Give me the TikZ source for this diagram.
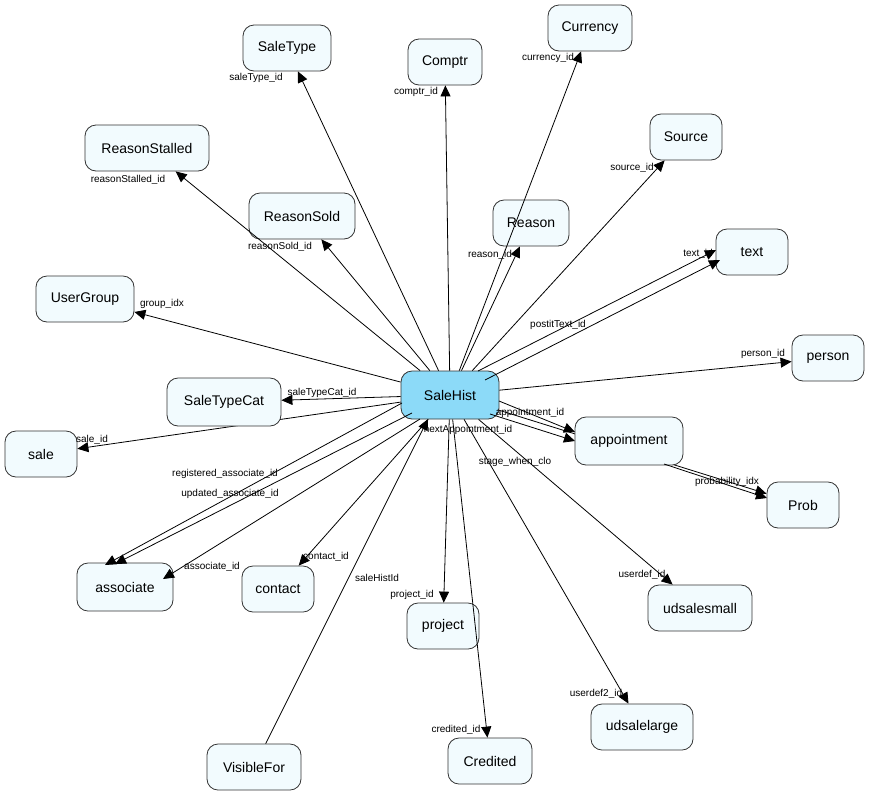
\documentclass[tikz,border=0pt]{standalone}
\usepackage{fontspec}
\setmainfont{Liberation Sans}
\usetikzlibrary{arrows.meta,calc}
\begin{document}
\begin{tikzpicture}[x=1pt,y=-1pt,
  nd/.style={draw=black!80,line width=0.8pt,rounded corners=11pt,fill=cyan!5,minimum height=46pt,font=\fontsize{14}{14}\selectfont,inner sep=0pt},
  e/.style={line width=0.8pt,-{Triangle[length=11pt,width=10pt]}},
  lb/.style={font=\fontsize{10}{10}\selectfont,inner sep=1pt}]
\useasboundingbox (0,0) rectangle (870,796);
\node[nd,fill=cyan!45,minimum width=98pt,minimum height=48pt] (SH) at (450,395) {SaleHist};
\node[nd,minimum width=88pt] (SaleType) at (287,48) {SaleType};
\node[nd,minimum width=74pt] (Comptr) at (445,62) {Comptr};
\node[nd,minimum width=84pt] (Currency) at (590,28) {Currency};
\node[nd,minimum width=124pt] (RS) at (147,148) {ReasonStalled};
\node[nd,minimum width=72pt] (Source) at (686,137) {Source};
\node[nd,minimum width=106pt] (RSold) at (302,216) {ReasonSold};
\node[nd,minimum width=76pt] (Reason) at (531,223) {Reason};
\node[nd,minimum width=72pt] (text) at (752,252) {text};
\node[nd,minimum width=98pt] (UG) at (85,299) {UserGroup};
\node[nd,minimum width=72pt] (person) at (828,358) {person};
\node[nd,minimum width=72pt] (sale) at (41,454) {sale};
\node[nd,minimum width=72pt] (Prob) at (803,505) {Prob};
\node[nd,minimum width=72pt] (contact) at (278,589) {contact};
\node[nd,minimum width=72pt] (project) at (443,626) {project};
\node[nd,minimum width=104pt] (uds) at (700,608) {udsalesmall};
\node[nd,minimum width=102pt] (udl) at (642,727) {udsalelarge};
\node[nd,minimum width=84pt] (Credited) at (490,761) {Credited};
\node[nd,minimum width=94pt] (VF) at (254,767) {VisibleFor};
% edges behind some nodes
\draw[e] (SH) -- (sale);
\draw[e] (SH) -- (Prob);
\node[nd,minimum width=114pt,minimum height=48pt] (STC) at (224,402) {SaleTypeCat};
\node[nd,minimum width=108pt,minimum height=48pt] (app) at (629,441) {appointment};
\node[nd,minimum width=96pt,minimum height=48pt] (assoc) at (125,587) {associate};
\node[lb] at (515,462) {stage\_when\_clo};
\node[lb] at (92,440) {sale\_id};
\draw[e] (SH) -- (SaleType);
\draw[e] (SH) -- (Comptr);
\draw[e] (SH) -- (Currency);
\draw[e] (SH) -- (RS);
\draw[e] (SH) -- (Source);
\draw[e] (SH) -- (RSold);
\draw[e] (SH) -- (Reason);
\draw[e] ($(SH)+(28,-24)$) -- ($(text)+(-36,-2)$);
\draw[e] ($(SH)+(35,-15)$) -- ($(text)+(-32,8)$);
\draw[e] (SH) -- (UG);
\draw[e] (SH) -- (person);
\draw[e] (SH) -- (STC);
\draw[e] ($(SH)+(49,6)$) -- ($(app)+(-54,-9)$);
\draw[e] ($(SH)+(40,19)$) -- ($(app)+(-54,0)$);
\draw[e] ($(app)+(35,23)$) -- ($(Prob)+(-36,-7)$);
\draw[e] ($(SH)+(-48,8)$) -- ($(assoc)+(-20,-22)$);
\draw[e] ($(SH)+(-38,18)$) -- ($(assoc)+(-10,-23)$);
\draw[e] ($(SH)+(-30,24)$) -- ($(assoc)+(38,-8)$);
\draw[e] (SH) -- (contact);
\draw[e] (SH) -- (project);
\draw[e] (SH) -- (uds);
\draw[e] (SH) -- (udl);
\draw[e] (SH) -- (Credited);
\draw[e] (VF) -- ($(SH)+(-22,24)$);
\node[lb] at (256,78) {saleType\_id};
\node[lb] at (416,92) {comptr\_id};
\node[lb] at (548,58) {currency\_id};
\node[lb] at (128,180) {reasonStalled\_id};
\node[lb] at (632,168) {source\_id};
\node[lb] at (280,247) {reasonSold\_id};
\node[lb] at (490,255) {reason\_id};
\node[lb] at (698,254) {text\_id};
\node[lb] at (558,325) {postitText\_id};
\node[lb] at (162,304) {group\_idx};
\node[lb] at (763,354) {person\_id};
\node[lb] at (322,393) {saleTypeCat\_id};
\node[lb] at (530,413) {appointment\_id};
\node[lb] at (468,430) {nextAppointment\_id};
\node[lb] at (727,482) {probability\_idx};
\node[lb] at (225,474) {registered\_associate\_id};
\node[lb] at (230,494) {updated\_associate\_id};
\node[lb] at (212,567) {associate\_id};
\node[lb] at (326,557) {contact\_id};
\node[lb] at (377,578) {saleHistId};
\node[lb] at (412,595) {project\_id};
\node[lb] at (642,575) {userdef\_id};
\node[lb] at (596,694) {userdef2\_id};
\node[lb] at (456,730) {credited\_id};
\end{tikzpicture}
\end{document}
